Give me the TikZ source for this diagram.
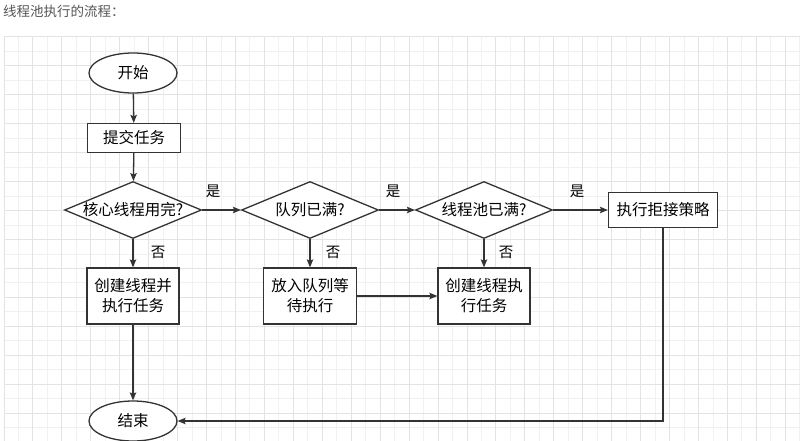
\documentclass[tikz,border=0pt]{standalone}
\usepackage{fontspec}
\setmainfont{Noto Sans CJK SC}
\usetikzlibrary{shapes.geometric,arrows.meta}
\definecolor{linegray}{HTML}{333333}
\definecolor{gridminor}{HTML}{F1F1F1}
\definecolor{gridmajor}{HTML}{E3E3E3}
\definecolor{titlegray}{HTML}{555555}
\begin{document}
\begin{tikzpicture}[x=1pt,y=-1pt,
        flow/.style={draw=linegray,line width=1.3pt,-{Stealth[length=8pt,width=6.5pt,inset=1.5pt]}},
        terminal/.style={ellipse,draw=linegray,line width=1.3pt,fill=white,minimum width=88pt,minimum height=40pt,inner sep=0pt,font=\fontsize{15.5}{20}\selectfont},
        process/.style={rectangle,draw=linegray,line width=1.3pt,fill=white,align=center,inner sep=0pt,font=\fontsize{15.5}{20}\selectfont},
        decision/.style={diamond,aspect=2.4,draw=linegray,line width=1.3pt,fill=white,inner xsep=-5pt,inner ysep=-2pt,minimum width=137pt,minimum height=57pt,font=\fontsize{15.5}{20}\selectfont},
        answer/.style={font=\fontsize{14.5}{16}\selectfont,inner sep=0pt}]
    \useasboundingbox (0,0) rectangle (811,441);
    % title
    \node[anchor=west,text=titlegray,font=\fontsize{13.5}{16}\selectfont,inner sep=0pt] (title) at (3,11) {线程池执行的流程：};
    % grid
    \foreach \k in {1,3,...,55} \draw[gridminor,line width=1pt] ({4+\k*14.47},37) -- ({4+\k*14.47},441);
    \foreach \k in {1,3,...,27} \draw[gridminor,line width=1pt] (4,{37+\k*14.47}) -- (800,{37+\k*14.47});
    \foreach \k in {0,2,...,54} \draw[gridmajor,line width=1pt] ({4+\k*14.47},37) -- ({4+\k*14.47},441);
    \foreach \k in {0,2,...,26} \draw[gridmajor,line width=1pt] (4,{37+\k*14.47}) -- (800,{37+\k*14.47});
    % nodes
    \node[terminal] (start) at (133,73) {开始};
    \node[process,minimum width=93pt,minimum height=29pt] (submit) at (134,138) {提交任务};
    \node[decision] (core) at (133,210) {核心线程用完?};
    \node[decision] (queue) at (310,210) {队列已满?};
    \node[decision] (pool) at (484,210) {线程池已满?};
    \node[process,minimum width=109pt,minimum height=35pt] (reject) at (663,210) {执行拒接策略};
    \node[process,minimum width=92pt,minimum height=56pt] (create) at (133,296) {创建线程并\\执行任务};
    \node[process,minimum width=93pt,minimum height=56pt] (enqueue) at (310,296) {放入队列等\\待执行};
    \node[process,minimum width=92pt,minimum height=56pt] (createtwo) at (484,296) {创建线程执\\行任务};
    \node[terminal] (stop) at (133,421) {结束};
    % arrows
    \draw[flow] (start) -- (submit);
    \draw[flow] (submit) -- (core);
    \draw[flow] (core.east) -- (queue.west);
    \draw[flow] (queue.east) -- (pool.west);
    \draw[flow] (pool.east) -- (reject.west);
    \draw[flow] (core.south) -- (create.north);
    \draw[flow] (queue.south) -- (enqueue.north);
    \draw[flow] (pool.south) -- (createtwo.north);
    \draw[flow] (enqueue.east) -- (createtwo.west);
    \draw[flow] (create.south) -- (stop.north);
    \draw[flow] (reject.south) |- (stop.east);
    % labels
    \node[answer] (yesone) at (213,191) {是};
    \node[answer] (yestwo) at (393,191) {是};
    \node[answer] (yesthree) at (577,191) {是};
    \node[answer] (noone) at (158,252) {否};
    \node[answer] (notwo) at (333,252) {否};
    \node[answer] (nothree) at (506,252) {否};
\end{tikzpicture}
\end{document}
